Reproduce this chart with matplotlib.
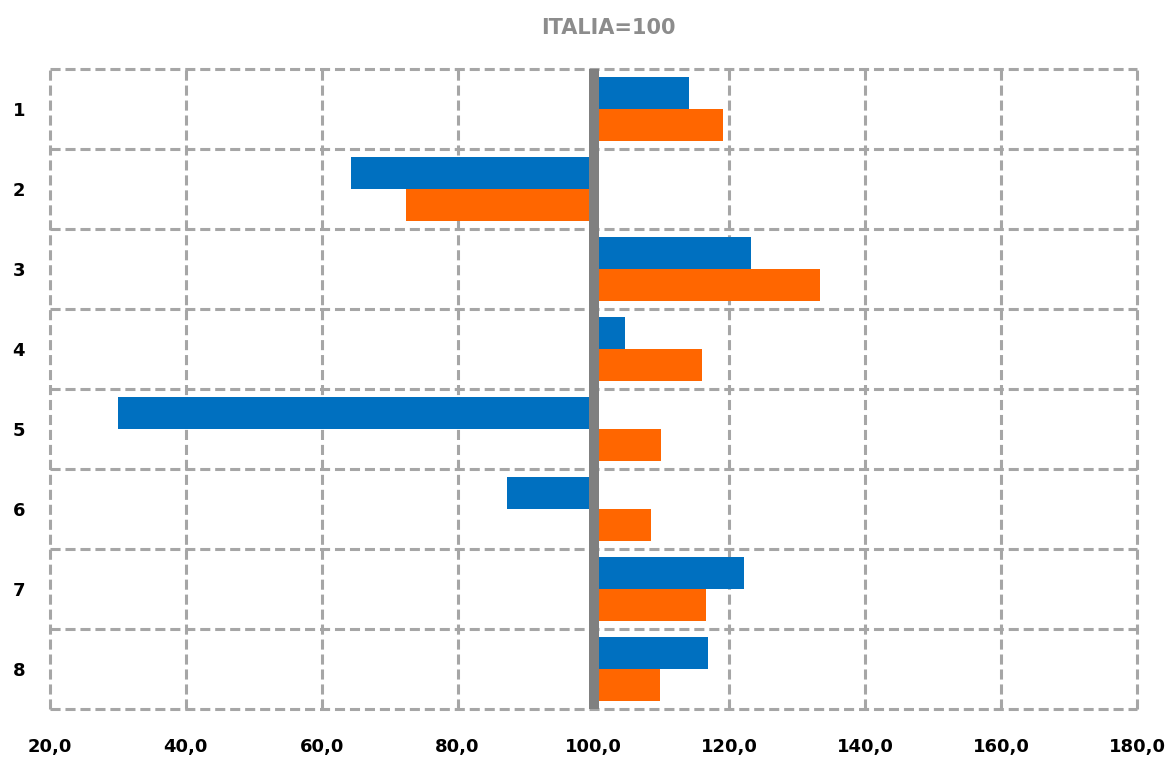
import matplotlib
matplotlib.use("Agg")
import matplotlib.pyplot as plt
import numpy as np

categories = ["1", "2", "3", "4", "5", "6", "7", "8"]
blue_values = [114.1, 64.3, 123.2, 104.7, 30.0, 87.3, 122.1, 116.8]
orange_values = [119.1, 72.4, 133.4, 115.9, 110.0, 108.5, 116.6, 109.8]
xticks = [20, 40, 60, 80, 100, 120, 140, 160, 180]
title = "ITALIA=100"
baseline = 100

BLUE = "#0070C0"
ORANGE = "#FF6600"
GRID = "#A6A6A6"

fig = plt.figure(figsize=(11.70, 7.58), dpi=100)
W, H = 1170, 758
ax = fig.add_axes([50 / W, (H - 709) / H, 1087 / W, 640 / H])

n = len(categories)
y = np.arange(n)
h = 0.4
blue_w = np.array(blue_values) - baseline
orange_w = np.array(orange_values) - baseline
ax.barh(y - h / 2, blue_w, left=baseline, height=h, color=BLUE, zorder=3)
ax.barh(y + h / 2, orange_w, left=baseline, height=h, color=ORANGE, zorder=3)

ax.set_xlim(xticks[0], xticks[-1])
ax.set_ylim(n - 0.5, -0.5)

dash = (0, (3.3, 1.6))
for xv in xticks:
    ax.axvline(xv, color=GRID, lw=2.2, linestyle=dash, zorder=1, clip_on=False)
for yb in np.arange(-0.5, n, 1.0):
    ax.axhline(yb, color=GRID, lw=2.2, linestyle=dash, zorder=1, clip_on=False)

ax.axvline(baseline, color="#808080", lw=7.2, zorder=4, clip_on=False,
           solid_capstyle="butt")

for s in ax.spines.values():
    s.set_visible(False)

ax.set_xticks(xticks)
ax.set_xticklabels([f"{v:.1f}".replace(".", ",") for v in xticks],
                   fontsize=13, fontweight="bold", color="black")
ax.set_yticks(y)
ax.set_yticklabels(categories, fontsize=13, fontweight="bold", color="black")
ax.tick_params(axis="x", length=0, pad=21)
ax.tick_params(axis="y", length=0, pad=18)

fig.text(608 / W, 1 - 28 / H, title, ha="center", va="center",
         fontsize=15, fontweight="bold", color="#8C8C8C")

fig.savefig("out.png", dpi=100)
